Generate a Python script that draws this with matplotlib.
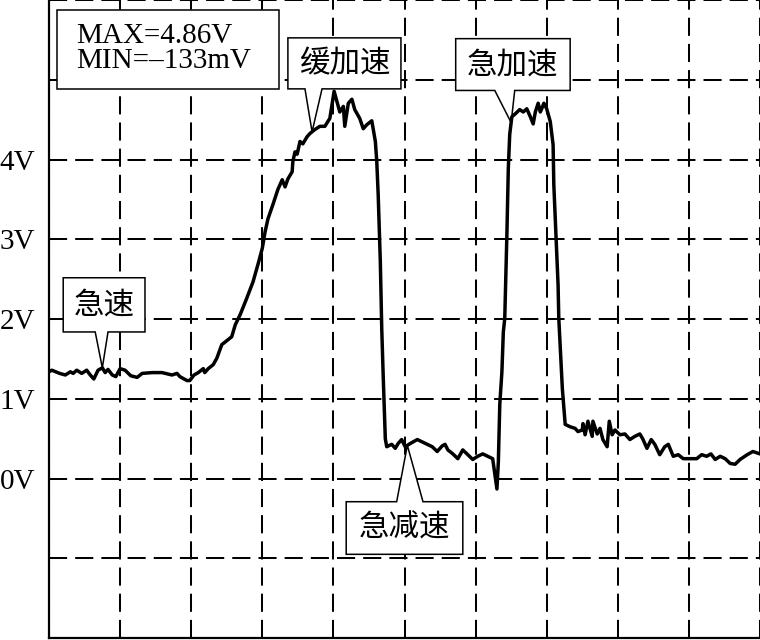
import matplotlib
matplotlib.use("Agg")
import matplotlib.pyplot as plt
from matplotlib.patches import Polygon
import numpy as np

# ---------------- data (time in grid divisions, voltage in V) ----------------
time_div = [0.00, 0.04, 0.15, 0.23, 0.30, 0.34, 0.39, 0.46, 0.53, 0.58,
            0.63, 0.69, 0.75, 0.79, 0.83, 0.89, 0.94, 1.00, 1.07, 1.15,
            1.24, 1.31, 1.45, 1.59, 1.73, 1.80, 1.84, 1.94, 1.98, 2.04,
            2.10, 2.17, 2.19, 2.24, 2.31, 2.36, 2.43, 2.50, 2.57, 2.62,
            2.69, 2.78, 2.87, 2.94, 3.00, 3.04, 3.08, 3.15, 3.22, 3.28,
            3.32, 3.36, 3.42, 3.43, 3.46, 3.49, 3.53, 3.57, 3.63, 3.67,
            3.74, 3.81, 3.88, 3.95, 4.01, 4.05, 4.09, 4.14, 4.16, 4.21,
            4.26, 4.30, 4.37, 4.42, 4.47, 4.54, 4.59, 4.61, 4.63, 4.66,
            4.68, 4.70, 4.73, 4.75, 4.82, 4.87, 4.91, 4.96, 5.01, 5.08,
            5.18, 5.25, 5.32, 5.39, 5.46, 5.53, 5.57, 5.61, 5.68, 5.75,
            5.82, 5.89, 5.96, 6.03, 6.10, 6.17, 6.24, 6.30, 6.32, 6.34,
            6.37, 6.39, 6.41, 6.44, 6.46, 6.48, 6.51, 6.55, 6.62, 6.67,
            6.72, 6.77, 6.81, 6.84, 6.88, 6.91, 6.93, 6.96, 7.00, 7.05,
            7.09, 7.10, 7.13, 7.16, 7.17, 7.22, 7.26, 7.33, 7.40, 7.44,
            7.50, 7.51, 7.54, 7.58, 7.64, 7.65, 7.71, 7.75, 7.79, 7.85,
            7.88, 7.92, 7.96, 8.03, 8.10, 8.17, 8.24, 8.31, 8.35, 8.41,
            8.47, 8.52, 8.59, 8.66, 8.71, 8.78, 8.85, 8.92, 9.02, 9.11,
            9.18, 9.25, 9.31, 9.37, 9.44, 9.51, 9.58, 9.65, 9.72, 9.82,
            9.90, 10.00]
volts = [1.34, 1.36, 1.32, 1.30, 1.34, 1.32, 1.36, 1.32, 1.36, 1.30,
         1.25, 1.36, 1.39, 1.33, 1.37, 1.30, 1.28, 1.38, 1.36, 1.29,
         1.27, 1.32, 1.33, 1.33, 1.30, 1.32, 1.28, 1.23, 1.23, 1.30,
         1.33, 1.38, 1.33, 1.38, 1.43, 1.51, 1.68, 1.73, 1.78, 1.93,
         2.06, 2.26, 2.47, 2.69, 2.89, 3.10, 3.26, 3.44, 3.63, 3.75,
         3.66, 3.76, 3.85, 3.98, 4.10, 4.07, 4.23, 4.20, 4.29, 4.33,
         4.38, 4.42, 4.42, 4.52, 4.86, 4.73, 4.60, 4.67, 4.42, 4.71,
         4.76, 4.63, 4.52, 4.39, 4.44, 4.49, 4.23, 3.98, 3.56, 2.72,
         1.88, 1.30, 0.50, 0.40, 0.43, 0.38, 0.44, 0.49, 0.40, 0.44,
         0.49, 0.46, 0.43, 0.40, 0.34, 0.41, 0.43, 0.36, 0.31, 0.25,
         0.36, 0.30, 0.24, 0.28, 0.31, 0.28, 0.25, -0.13, 0.21, 0.93,
         1.34, 1.84, 2.01, 3.06, 3.89, 4.32, 4.54, 4.57, 4.63, 4.60,
         4.64, 4.54, 4.45, 4.60, 4.71, 4.60, 4.64, 4.71, 4.64, 4.48,
         4.19, 3.69, 3.06, 2.43, 2.01, 1.13, 0.68, 0.65, 0.63, 0.59,
         0.61, 0.69, 0.55, 0.72, 0.53, 0.72, 0.56, 0.63, 0.49, 0.40,
         0.72, 0.55, 0.61, 0.55, 0.56, 0.49, 0.53, 0.56, 0.50, 0.38,
         0.49, 0.43, 0.30, 0.40, 0.43, 0.28, 0.30, 0.25, 0.25, 0.25,
         0.30, 0.28, 0.31, 0.24, 0.28, 0.25, 0.19, 0.18, 0.24, 0.30,
         0.34, 0.31]

y_ticks = [-2, -1, 0, 1, 2, 3, 4, 5, 6]
y_tick_labels = ["", "", "0V", "1V", "2V", "3V", "4V", "", ""]
x_ticks = list(range(0, 11))

stats_lines = ["MAX=4.86V", "MIN=\u2013133mV"]

# callouts: label, tip time (on the trace), box (x0, x1, ybot, ytop), wedge base x, wedge side
callout_labels = ["急速", "缓加速", "急加速", "急减速"]
callout_tip_t = [0.75, 3.70, 6.50, 5.04]
callout_boxes = [(0.20, 1.35, 1.84, 2.52),
                 (3.36, 4.95, 4.89, 5.53),
                 (5.72, 7.33, 4.87, 5.52),
                 (4.18, 5.82, -0.95, -0.29)]
callout_wedge = [(0.65, 0.83), (3.60, 3.84), (6.27, 6.55), (4.89, 5.26)]
callout_side = ["bottom", "bottom", "bottom", "top"]

# ---------------- figure ----------------
plt.rcParams["font.family"] = ["Liberation Serif", "Noto Sans CJK SC", "DejaVu Sans"]
fig = plt.figure(figsize=(7.6, 6.4), dpi=100)
ax = fig.add_axes([49 / 760, 2 / 640, 711 / 760, 637.6 / 640])

ax.set_xlim(0, 10)
ax.set_ylim(-2, 6)
ax.set_xticks(x_ticks)
ax.set_xticklabels([])
ax.set_yticks(y_ticks)
ax.set_yticklabels(y_tick_labels, fontsize=21)
ax.tick_params(length=0, pad=10)

ax.grid(True, color="black", lw=1.45, ls=(0, (9, 4)), zorder=0)
ax.set_axisbelow(True)
for s in ["top", "right"]:
    ax.spines[s].set_visible(False)
for s in ["left", "bottom"]:
    ax.spines[s].set_linewidth(1.6)
    ax.spines[s].set_color("black")

ax.plot(time_div, volts, color="black", lw=2.5, solid_joinstyle="round", zorder=4)

# stats box
ax.add_patch(Polygon([(0.11, 4.89), (3.23, 4.89), (3.23, 5.88), (0.11, 5.88)],
                     closed=True, facecolor="white", edgecolor="black", lw=1.1, zorder=3))
ax.text(0.38, 5.46, stats_lines[0], fontsize=21, ha="left", va="baseline", zorder=5)
ax.text(0.38, 5.155, stats_lines[1], fontsize=21, ha="left", va="baseline", zorder=5)

# callouts
for lab, tt, box, wb, side in zip(callout_labels, callout_tip_t, callout_boxes,
                                  callout_wedge, callout_side):
    x0, x1, yb, yt = box
    ty = float(np.interp(tt, time_div, volts))
    if side == "bottom":
        verts = [(x0, yt), (x1, yt), (x1, yb), (wb[1], yb), (tt, ty), (wb[0], yb), (x0, yb)]
    else:
        verts = [(x0, yb), (x1, yb), (x1, yt), (wb[1], yt), (tt, ty), (wb[0], yt), (x0, yt)]
    ax.add_patch(Polygon(verts, closed=True, facecolor="white", edgecolor="black",
                         lw=1.1, joinstyle="miter", zorder=3))
    ax.text((x0 + x1) / 2, (yb + yt) / 2, lab, fontsize=22, ha="center", va="center",
            family=["Noto Sans CJK SC", "DejaVu Sans"], zorder=5)

fig.savefig("out.png", dpi=100)
